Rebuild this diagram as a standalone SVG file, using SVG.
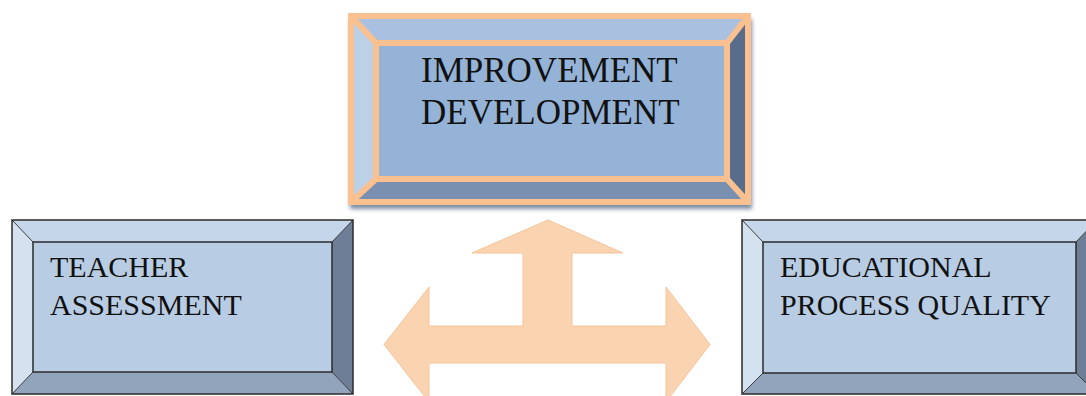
<svg xmlns="http://www.w3.org/2000/svg" width="1086" height="396" viewBox="0 0 1086 396">
<style>
.lbl{font-family:"Liberation Serif","Times New Roman",serif;fill:#111}
.big{font-size:35px}
.sm{font-size:30px}
.edge{fill:none;stroke:#2b2b2b;stroke-width:1.5}
.diag{stroke:#3a3a3a;stroke-width:1}
.oedge{fill:none;stroke:#fac08f;stroke-width:6}
</style>
<defs>
<filter id="sh" x="-5%" y="-5%" width="110%" height="115%">
<feGaussianBlur stdDeviation="2"/>
</filter>
</defs>
<rect width="1086" height="396" fill="#ffffff"/>

<g id="connectors">
<polygon points="548,220 623,253 572,253 572,326 666,326 666,287 710,344.5 666,402 666,363 429,363 429,402 384,344.5 429,287 429,326 523,326 523,253 472,253" fill="#fad3b1" stroke="#f7c49a" stroke-width="1"/>
</g>

<g id="node-improvement">
<rect x="350" y="19" width="402" height="190" fill="#7c8ca3" filter="url(#sh)"/>
<polygon points="351,16 748,16 727,43 376,43" fill="#a9c0e0"/>
<polygon points="351,16 376,43 376,179 351,202" fill="#bcd0e8"/>
<polygon points="748,16 748,202 727,179 727,43" fill="#586d8b"/>
<polygon points="351,202 376,179 727,179 748,202" fill="#7990b0"/>
<rect x="376" y="43" width="351" height="136" fill="#95b3d7"/>
<line x1="351" y1="16" x2="376" y2="43" class="oedge"/>
<line x1="748" y1="16" x2="727" y2="43" class="oedge"/>
<line x1="351" y1="202" x2="376" y2="179" class="oedge"/>
<line x1="748" y1="202" x2="727" y2="179" class="oedge"/>
<rect x="376" y="43" width="351" height="136" class="oedge"/>
<rect x="351" y="16" width="397" height="186" class="oedge"/>
<text class="lbl big" x="421" y="82">IMPROVEMENT</text>
<text class="lbl big" x="421" y="124">DEVELOPMENT</text>
</g>

<g id="node-teacher">
<polygon points="12,220 353,220 332,242 33,242" fill="#c6d6ea"/>
<polygon points="12,220 33,242 33,372 12,394" fill="#d4e1ef"/>
<polygon points="353,220 353,394 332,372 332,242" fill="#6d7e96"/>
<polygon points="12,394 33,372 332,372 353,394" fill="#92a4bc"/>
<rect x="33" y="242" width="299" height="130" fill="#b8cce4"/>
<line x1="12" y1="220" x2="33" y2="242" class="diag"/>
<line x1="353" y1="220" x2="332" y2="242" class="diag"/>
<line x1="12" y1="394" x2="33" y2="372" class="diag"/>
<line x1="353" y1="394" x2="332" y2="372" class="diag"/>
<rect x="33" y="242" width="299" height="130" class="edge"/>
<rect x="12" y="220" width="341" height="174" class="edge"/>
<text class="lbl sm" x="50" y="277">TEACHER</text>
<text class="lbl sm" x="50" y="315">ASSESSMENT</text>
</g>

<g id="node-quality">
<polygon points="742,220 1097,220 1076,242 763,242" fill="#c6d6ea"/>
<polygon points="742,220 763,242 763,373 742,394" fill="#d4e1ef"/>
<polygon points="1097,220 1097,394 1076,373 1076,242" fill="#6d7e96"/>
<polygon points="742,394 763,373 1076,373 1097,394" fill="#92a4bc"/>
<rect x="763" y="242" width="313" height="131" fill="#b8cce4"/>
<line x1="742" y1="220" x2="763" y2="242" class="diag"/>
<line x1="1097" y1="220" x2="1076" y2="242" class="diag"/>
<line x1="742" y1="394" x2="763" y2="373" class="diag"/>
<line x1="1097" y1="394" x2="1076" y2="373" class="diag"/>
<rect x="763" y="242" width="313" height="131" class="edge"/>
<rect x="742" y="220" width="355" height="174" class="edge"/>
<text class="lbl sm" x="780" y="277">EDUCATIONAL</text>
<text class="lbl sm" x="780" y="315">PROCESS QUALITY</text>
</g>
</svg>
